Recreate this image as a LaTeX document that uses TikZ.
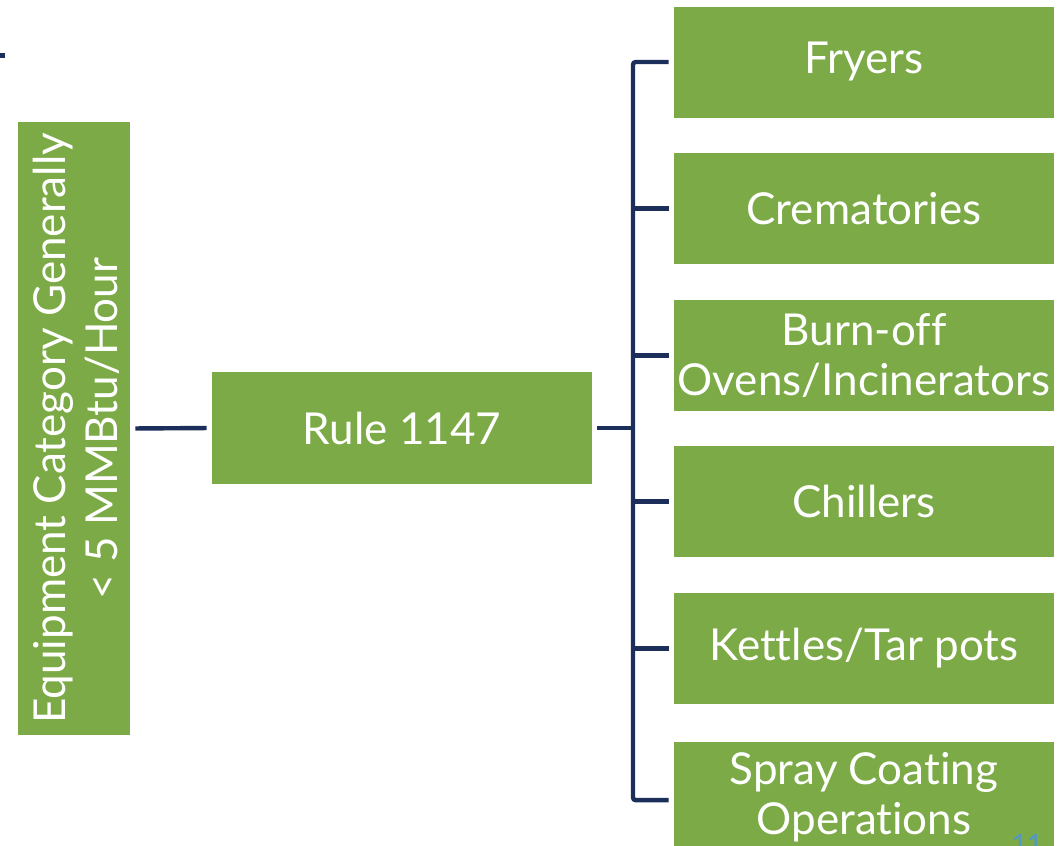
\documentclass[tikz,border=0pt]{standalone}
\usepackage{fontspec}
\setmainfont{Lato}[Ligatures=NoCommon]
\definecolor{boxgreen}{HTML}{7BAA46}
\definecolor{navy}{HTML}{1C2E5A}
\definecolor{pgblue}{HTML}{4F97CC}
\begin{document}
\begin{tikzpicture}[x=0.75pt,y=-0.75pt,
  gbox/.style={fill=boxgreen,draw=none,text=white,align=center,inner sep=0pt,
    font=\fontsize{33}{37.5}\selectfont},
  rbox/.style={gbox,minimum width=285pt,minimum height=83.25pt},
  conn/.style={draw=navy,line width=3.3pt}]
\useasboundingbox (0,0) rectangle (1061,846);
\fill[navy] (0,53) rectangle (5,58);
\node[gbox,minimum width=84pt,minimum height=459.75pt] (cat) at (74,428.5) {};
\node[gbox,rotate=90,font=\fontsize{33}{39}\selectfont] (cattext) at (76,428.5) {Equipment Category Generally\\\textless{} 5 MMBtu/Hour};
\node[gbox,minimum width=285pt,minimum height=84pt] (rule) at (402,428) {Rule 1147};
\node[rbox] (fry) at (864,62) {Fryers};
\node[rbox] (crem) at (864,208.5) {Crematories};
\node[rbox] (burn) at (864,355.5) {Burn-off\\Ovens/Incinerators};
\node[rbox] (chill) at (864,501.5) {Chillers};
\node[rbox] (kett) at (864,648.5) {Kettles/Tar pots};
\node[rbox] (spray) at (864,797.5) {Spray Coating\\Operations};
\node[text=pgblue,anchor=north,inner sep=0pt,font=\fontsize{20}{20}\selectfont] (pg) at (1027,834) {11};
\coordinate (sp) at (633,430);
\draw[conn,shorten <=3.75pt,shorten >=3.75pt] (cat.east) -- (rule.west);
\draw[conn,shorten <=3.75pt] (rule.east) -- (rule.east -| sp);
\draw[conn,rounded corners=2pt] ([xshift=-3.75pt]fry.west) -- (fry.west -| sp) -- ([yshift=-2pt]spray.west -| sp) -- ([xshift=-3.75pt,yshift=-2pt]spray.west);
\foreach \b in {crem,burn,chill,kett}
  \draw[conn] ([xshift=-3.75pt]\b.west) -- (\b.west -| sp);
\end{tikzpicture}
\end{document}
